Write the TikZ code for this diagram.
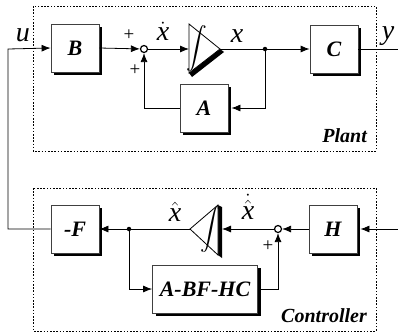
\documentclass[tikz,border=0pt]{standalone}
\usepackage{amsmath}
\usepackage{fontspec}
\setmainfont{Liberation Serif}
\usetikzlibrary{calc,arrows.meta,shadows,positioning}
\tikzset{blk/.style={draw=black!75,fill=white,line width=0.8pt,minimum width=48pt,minimum height=48pt,inner sep=0pt,font=\fontsize{22}{24}\selectfont\bfseries\itshape,general shadow={fill=black,shadow xshift=3pt,shadow yshift=-3pt}},
  sig/.style={line width=0.8pt,-{Latex[length=9pt,width=7pt]}},
  wire/.style={line width=0.8pt},
  sumpt/.style={circle,draw,line width=1.2pt,fill=white,inner sep=0pt,minimum size=7pt},
  dotpt/.style={circle,fill,inner sep=0pt,minimum size=4.5pt},
  lbl/.style={font=\fontsize{28}{28}\selectfont\itshape,inner sep=0pt},
  pluslbl/.style={font=\fontsize{19}{19}\selectfont,inner sep=0pt},
  grp/.style={line width=0.8pt,dash pattern=on 1.6pt off 1.6pt},
  grplbl/.style={font=\fontsize{20}{20}\selectfont\bfseries\itshape,inner sep=0pt}}

\begin{document}
\begin{tikzpicture}[x=1pt,y=-1pt]

\useasboundingbox (0,0) rectangle (398,335);

% The dashed groups
\draw[grp] (33,6) rectangle (376,151);
\draw[grp] (33,188) rectangle (376,331);
\node[grplbl,anchor=base east] (plant-lbl) at (367,142) {Plant};
\node[grplbl,anchor=base east] (ctrl-lbl) at (367,322) {Controller};

% Nodes of the plant
\node[blk] (b-block) at (75,48) {B};
\node[blk] (c-block) at (334,49) {C};
\node[blk] (a-block) at (204,108) {A};
\node[sumpt] (plant-sum) at (144,49) {};
\node[dotpt] (x-node) at (265,49) {};
\coordinate (u-corner) at (8,49);
\coordinate (y-out) at (398,49);

% The plant integrator
\coordinate (int-p-in) at (189,49);
\coordinate (int-p-out) at (220,49);
\fill (189,73) -- (220,49) -- (224,52) -- (192,77) -- cycle;
\draw[wire,fill=white] (189,24) -- (189,73) -- (220,49) -- cycle;
\node (int-p) at (197,49) {\fontsize{20}{20}\selectfont$\displaystyle\int$};

% Nodes of the controller
\node[blk] (f-block) at (75,229) {-F};
\node[blk] (h-block) at (333,229) {H};
\node[blk,minimum width=105pt] (abf-block) at (205,289) {A-BF-HC};
\node[sumpt] (ctrl-sum) at (278,229) {};
\node[dotpt] (xhat-node) at (129,229) {};
\coordinate (y-in) at (398,229);

% The controller integrator
\coordinate (int-c-in) at (222,229);
\coordinate (int-c-out) at (190,229);
\fill (218,205) -- (222,207) -- (222,258) -- (218,255) -- cycle;
\draw[wire,fill=white] (218,205) -- (218,255) -- (190,229) -- cycle;
\node (int-c) at (211,230) {\fontsize{20}{20}\selectfont$\displaystyle\int$};

% Plant wires
\draw[sig] (f-block.west) -| (u-corner) -- (b-block.west);
\draw[sig] (b-block.east) -- (plant-sum);
\draw[sig] (plant-sum) -- (int-p-in);
\draw[wire] (int-p-out) -- (x-node);
\draw[sig] (x-node) -- (c-block.west);
\draw[sig] (x-node) |- ([xshift=3pt]a-block.east);
\draw[sig] (a-block.west) -| (plant-sum);
\draw[wire] (c-block.east) -- (y-out);

% Controller wires
\draw[sig] (y-in) -- ([xshift=3pt]h-block.east);
\draw[sig] (h-block.west) -- (ctrl-sum);
\draw[sig] (ctrl-sum) -- (int-c-in);
\draw[wire] (int-c-out) -- (xhat-node);
\draw[sig] (xhat-node) -- (f-block.east);
\draw[sig] (xhat-node) |- (abf-block.west);
\draw[sig] (abf-block.east) -| (ctrl-sum);

% Signal labels
\node[lbl] (u-lbl) at (23,35) {u};
\node[lbl] (y-lbl) at (388,36) {y};
\node[lbl] (x-lbl) at (237,36) {x};
\node[lbl] (xdot-lbl) at (163,31) {$\dot{\textit{x}}$};
\node[lbl] (xhat-lbl) at (175,212) {$\hat{\textit{x}}$};
\node[lbl] (xhatdot-lbl) at (248,207) {$\dot{\hat{\textit{x}}}$};
\node[pluslbl] (plus-1) at (129,35) {+};
\node[pluslbl] (plus-2) at (135,70) {+};
\node[pluslbl] (plus-3) at (268,246) {+};

\end{tikzpicture}
\end{document}
